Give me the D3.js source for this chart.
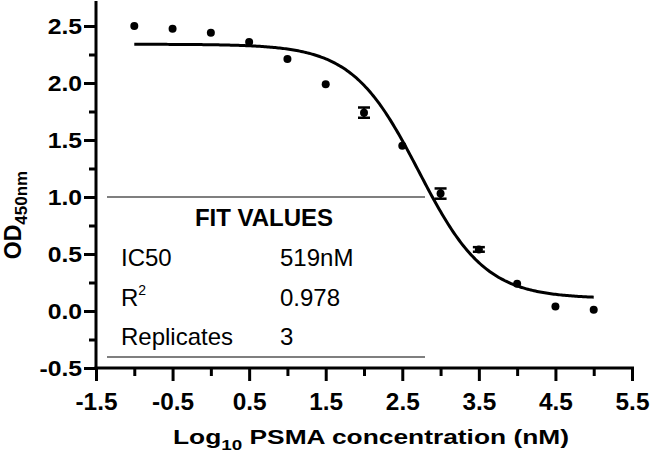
<!DOCTYPE html>
<html><head><meta charset="utf-8">
<script src="https://cdn.jsdelivr.net/npm/d3@7"></script>
<style>
body{margin:0;background:#fff;}
svg{display:block;}
text{font-family:"Liberation Sans",Arial,sans-serif;fill:#000;}
</style></head>
<body>
<svg id="chart" width="651" height="454"></svg>
<script>
// ---- data ----
const logConc = [-1, -0.5, 0, 0.5, 1, 1.5, 2, 2.5, 3, 3.5, 4, 4.5, 5];
const odMean  = [2.50, 2.475, 2.44, 2.36, 2.21, 1.99, 1.74, 1.45, 1.03, 0.54, 0.24, 0.04, 0.01];
const odErr   = [0, 0, 0, 0, 0, 0, 0.045, 0, 0.045, 0.02, 0, 0, 0];
const xMajorTicks = [-1.5, -0.5, 0.5, 1.5, 2.5, 3.5, 4.5, 5.5];
const xMinorTicks = [-1, 0, 1, 2, 3, 4, 5];
const yMajorTicks = [-0.5, 0.0, 0.5, 1.0, 1.5, 2.0, 2.5];
const yMinorTicks = [-0.25, 0.25, 0.75, 1.25, 1.75, 2.25];
// four-parameter logistic fit
const fitTop = 2.34, fitBottom = 0.11, fitLogIC50 = Math.log10(519), fitHill = 1.0;
const fitRange = [-1, 5];
const tableHeader = "FIT VALUES";
const tableLabels = ["IC50", "R", "Replicates"];
const tableValues = ["519nM", "0.978", "3"];

const svg = d3.select("#chart");
const x = d3.scaleLinear().domain([-1.5, 5.5]).range([96, 632]);
const y = d3.scaleLinear().domain([-0.5, 2.5]).range([368, 26]);
const fmt = d => d3.format(".1f")(d).replace("\u2212", "-");
const stretch = (sel, k) => sel.each(function(){
  const w = this.getComputedTextLength();
  d3.select(this).attr("textLength", w * k).attr("lengthAdjust", "spacingAndGlyphs");
});

// axes
const axisW = 3;
const gx = svg.append("g").attr("transform", `translate(0,${y(-0.5)})`);
const gxMaj = gx.append("g").call(d3.axisBottom(x).tickValues(xMajorTicks).tickSize(13).tickFormat(fmt));
const gxMin = gx.append("g").call(d3.axisBottom(x).tickValues(xMinorTicks).tickSize(8).tickFormat(""));
gx.selectAll(".domain").remove();
gx.selectAll("line").attr("stroke", "#000").attr("stroke-width", axisW);
gxMin.selectAll("text").remove();
gxMaj.selectAll("text").attr("font-size", 23).attr("font-weight", "bold").attr("dy", null).attr("y", 41.5)
  .attr("font-family", '"Liberation Sans",Arial,sans-serif');
stretch(gxMaj.selectAll("text"), 1.06);
gx.append("line").attr("x1", x(-1.5) - 1.5).attr("x2", x(5.5) + 2).attr("y1", 0).attr("y2", 0)
  .attr("stroke", "#000").attr("stroke-width", axisW);

const gy = svg.append("g").attr("transform", `translate(${x(-1.5)},0)`);
const gyMaj = gy.append("g").call(d3.axisLeft(y).tickValues(yMajorTicks).tickSize(12).tickFormat(fmt));
const gyMin = gy.append("g").call(d3.axisLeft(y).tickValues(yMinorTicks).tickSize(7).tickFormat(""));
gy.selectAll(".domain").remove();
gy.selectAll("line").attr("stroke", "#000").attr("stroke-width", axisW);
gyMin.selectAll("text").remove();
gyMaj.selectAll("text").attr("font-size", 21.5).attr("font-weight", "bold").attr("x", -14).attr("dy", "0.36em")
  .attr("font-family", '"Liberation Sans",Arial,sans-serif');
stretch(gyMaj.selectAll("text"), 1.15);
gy.append("line").attr("x1", 0).attr("x2", 0).attr("y1", y(2.72)).attr("y2", y(-0.5) + 1.5)
  .attr("stroke", "#000").attr("stroke-width", axisW);

// axis titles
const xt = svg.append("text").attr("x", 173).attr("y", 444)
  .attr("font-size", 21).attr("font-weight", "bold")
  .attr("textLength", 396).attr("lengthAdjust", "spacingAndGlyphs");
xt.append("tspan").text("Log");
xt.append("tspan").attr("font-size", 15).attr("dy", 6).text("10");
xt.append("tspan").attr("dy", -6).text(" PSMA concentration (nM)");

const yt = svg.append("text").attr("transform", "translate(21,215) rotate(-90)")
  .attr("text-anchor", "middle").attr("font-size", 23).attr("font-weight", "bold");
yt.append("tspan").text("OD");
yt.append("tspan").attr("font-size", 17).attr("dy", 6).text("450nm");

// fit table
const tableLine = "#555";
svg.append("line").attr("x1", 107).attr("x2", 425).attr("y1", y(1.0)).attr("y2", y(1.0))
  .attr("stroke", tableLine).attr("stroke-width", 1.3);
svg.append("line").attr("x1", 107).attr("x2", 425).attr("y1", 357).attr("y2", 357)
  .attr("stroke", tableLine).attr("stroke-width", 1.3);
svg.append("text").attr("x", 264).attr("y", 226).attr("text-anchor", "middle")
  .attr("font-size", 24).attr("font-weight", "bold").text(tableHeader);
const rowY = [266, 306, 345];
tableLabels.forEach((lab, i) => {
  const t = svg.append("text").attr("x", 121).attr("y", rowY[i]).attr("font-size", 24).text(lab);
  if (lab === "R") t.append("tspan").attr("font-size", 14).attr("dy", -11).text("2");
  svg.append("text").attr("x", 280).attr("y", rowY[i]).attr("font-size", 24).text(tableValues[i]);
});

// fitted curve
const fit = v => fitBottom + (fitTop - fitBottom) / (1 + Math.pow(10, (v - fitLogIC50) * fitHill));
const curveX = d3.range(fitRange[0], fitRange[1] + 0.001, 0.02);
svg.append("path").datum(curveX)
  .attr("d", d3.line().x(d => x(d)).y(d => y(fit(d))))
  .attr("fill", "none").attr("stroke", "#000").attr("stroke-width", 3);

// error bars
const pts = logConc.map((v, i) => ({x: v, y: odMean[i], e: odErr[i]}));
const eb = svg.append("g").selectAll("g").data(pts.filter(d => d.e > 0)).join("g");
eb.append("line").attr("x1", d => x(d.x)).attr("x2", d => x(d.x))
  .attr("y1", d => y(d.y - d.e)).attr("y2", d => y(d.y + d.e)).attr("stroke", "#000").attr("stroke-width", 2.5);
[-1, 1].forEach(s => {
  eb.append("line").attr("x1", d => x(d.x) - 6).attr("x2", d => x(d.x) + 6)
    .attr("y1", d => y(d.y + s * d.e)).attr("y2", d => y(d.y + s * d.e)).attr("stroke", "#000").attr("stroke-width", 2.5);
});

// points
svg.append("g").selectAll("circle").data(pts).join("circle")
  .attr("cx", d => x(d.x)).attr("cy", d => y(d.y)).attr("r", 4).attr("fill", "#000");
</script>
</body></html>
